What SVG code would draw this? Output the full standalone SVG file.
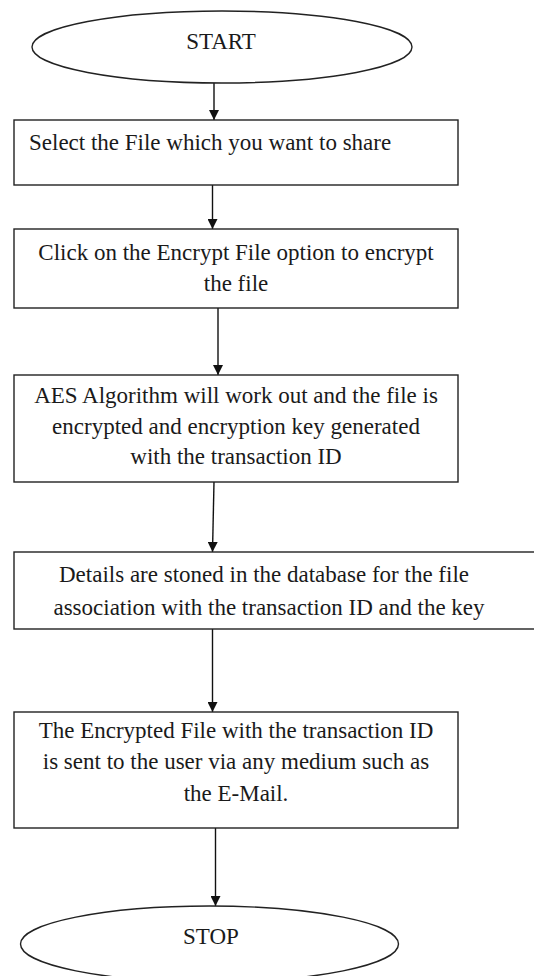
<svg xmlns="http://www.w3.org/2000/svg" width="534" height="976" viewBox="0 0 534 976">
<defs>
<marker id="ah" markerWidth="10" markerHeight="10" refX="10" refY="5" orient="auto" markerUnits="userSpaceOnUse">
<path d="M0,0 L10,5 L0,10 Z" fill="#111"/>
</marker>
<style>
.shape{fill:#fff;stroke:#222;stroke-width:1.4}
.t{font-family:"Liberation Serif","Times New Roman",serif;font-size:23px;fill:#1a1a1a;text-anchor:middle}
.tl{text-anchor:start}
.c{stroke:#111;stroke-width:1.4;fill:none;marker-end:url(#ah)}
</style>
</defs>
<rect width="534" height="976" fill="#fff"/>
<g id="connectors">
<line class="c" x1="214" y1="83" x2="214" y2="120"/>
<line class="c" x1="212.5" y1="185" x2="212.5" y2="229"/>
<line class="c" x1="218" y1="308" x2="218" y2="375"/>
<line class="c" x1="214" y1="482" x2="212.5" y2="552"/>
<line class="c" x1="212.5" y1="629" x2="212.5" y2="712"/>
<line class="c" x1="215.5" y1="828" x2="215.5" y2="906"/>
</g>
<g id="start">
<ellipse class="shape" cx="222" cy="47" rx="190" ry="36"/>
<text class="t" x="221" y="49">START</text>
</g>
<g id="select">
<rect class="shape" x="14" y="120" width="444" height="65"/>
<text class="t tl" x="29" y="150">Select the File which you want to share</text>
</g>
<g id="click">
<rect class="shape" x="14" y="229" width="444" height="79"/>
<text class="t" x="236" y="260">Click on the Encrypt File option to encrypt</text>
<text class="t" x="236" y="291">the file</text>
</g>
<g id="aes">
<rect class="shape" x="14" y="375" width="444" height="107"/>
<text class="t" x="236" y="403">AES Algorithm will work out and the file is</text>
<text class="t" x="236" y="434">encrypted and encryption key generated</text>
<text class="t" x="236" y="464">with the transaction ID</text>
</g>
<g id="details">
<rect class="shape" x="14" y="552" width="530" height="77"/>
<text class="t" x="264" y="582">Details are stoned in the database for the file</text>
<text class="t" x="269" y="615">association with the transaction ID and the key</text>
</g>
<g id="sent">
<rect class="shape" x="14" y="712" width="444" height="116"/>
<text class="t" x="236" y="738">The Encrypted File with the transaction ID</text>
<text class="t" x="236" y="769">is sent to the user via any medium such as</text>
<text class="t" x="236" y="801">the E-Mail.</text>
</g>
<g id="stop">
<ellipse class="shape" cx="209.5" cy="944" rx="189" ry="38"/>
<text class="t" x="211" y="944">STOP</text>
</g>
</svg>
